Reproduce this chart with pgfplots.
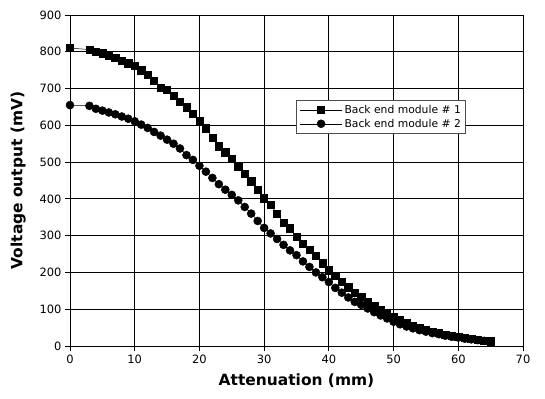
\documentclass[border=0pt]{standalone}
\usepackage{fontspec}
\setmainfont{DejaVu Sans}
\usepackage{pgfplots}
\pgfplotsset{compat=1.18}

\begin{document}
\begin{tikzpicture}
\begin{axis}[
  scale only axis,
  width=453bp, height=331bp,
  xmin=0, xmax=70, ymin=0, ymax=900,
  xtick={0,10,...,70},
  ytick={0,100,...,900},
  tick align=outside,
  tick pos=left,
  major tick length=5bp,
  tick style={black, line width=0.8bp},
  axis line style={black, line width=0.8bp},
  grid=major,
  major grid style={black, line width=0.8bp},
  /pgf/number format/assume math mode=true,
  ticklabel style={font=\fontsize{11.5}{13}\selectfont},
  xlabel={Attenuation (mm)},
  ylabel={Voltage output (mV)},
  label style={font=\fontsize{15.5}{17}\selectfont\bfseries},
  xlabel style={yshift=-4bp},
  ylabel style={yshift=7bp},
  legend style={
    at={(0.687,0.692)}, anchor=center,
    draw=black!70, line width=0.6bp,
    font=\fontsize{10.8}{12}\selectfont,
    row sep=0bp, inner sep=2.8bp,
    cells={anchor=west},
  },
  legend image code/.code={%
    \draw[mark repeat=2, mark phase=2] plot coordinates {(0cm,0cm) (0.75cm,0cm) (1.5cm,0cm)};},
]
\addplot[black, line width=0.5bp, mark=square*, mark size=3.6bp, mark options={solid, fill=black}] coordinates {
(0,810) (3,806) (4,801) (5,796) (6,790) (7,783) (8,776) (9,769) (10,761)
(11,750) (12,737) (13,722) (14,703) (15,697) (16,680) (17,664) (18,649) (19,632) (20,612)
(21,592) (22,567) (23,543) (24,527) (25,510) (26,489) (27,469) (28,448) (29,425) (30,402)
(31,383) (32,360) (33,335) (34,320) (35,297) (36,279) (37,262) (38,245) (39,225) (40,206)
(41,190) (42,175) (43,160) (44,145) (45,134) (46,120) (47,108) (48,97) (49,88) (50,78)
(51,70) (52,62) (53,55) (54,49) (55,44) (56,39) (57,35) (58,31) (59,28) (60,25)
(61,22) (62,19) (63,17) (64,15) (65,13)
};
\addlegendentry{Back end module \# 1}
\addplot[black, line width=0.5bp, mark=*, mark size=4bp, mark options={solid, fill=black}] coordinates {
(0,655) (3,653) (4,645) (5,640) (6,635) (7,630) (8,624) (9,618) (10,611)
(11,602) (12,593) (13,582) (14,572) (15,561) (16,550) (17,537) (18,519) (19,506) (20,490)
(21,474) (22,457) (23,440) (24,425) (25,411) (26,396) (27,378) (28,360) (29,340) (30,321)
(31,306) (32,291) (33,275) (34,260) (35,247) (36,230) (37,215) (38,200) (39,187) (40,174)
(41,158) (42,145) (43,132) (44,120) (45,112) (46,102) (47,92) (48,83) (49,75) (50,66)
(51,59) (52,53) (53,48) (54,43) (55,39) (56,35) (57,32) (58,28) (59,25) (60,23)
(61,20) (62,18) (63,16) (64,14) (65,12)
};
\addlegendentry{Back end module \# 2}
\end{axis}
\pgfresetboundingbox
\useasboundingbox (-70bp,-53bp) rectangle (475bp,346bp);
\end{tikzpicture}
\end{document}
